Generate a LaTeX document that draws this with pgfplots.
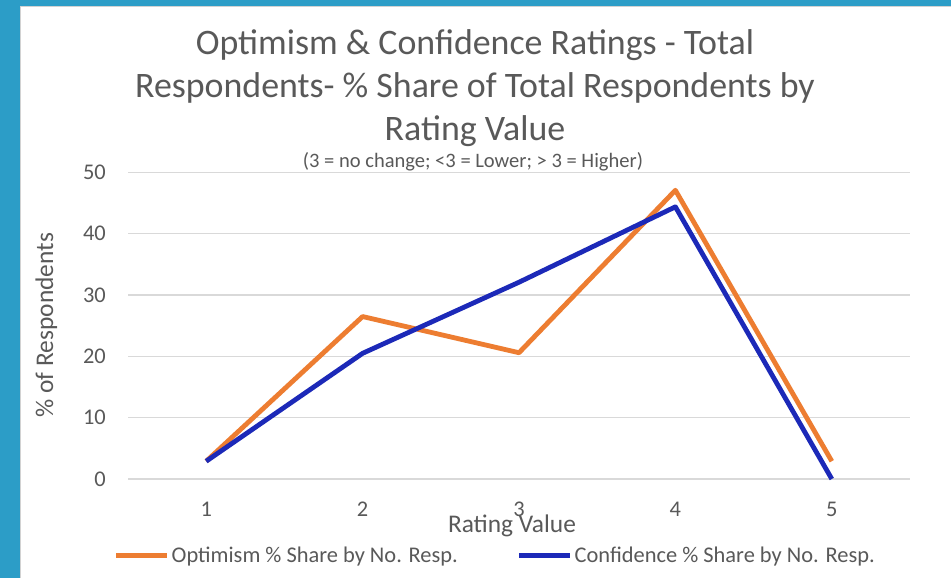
\documentclass[border=0pt]{standalone}
\usepackage{pgfplots}
\pgfplotsset{compat=1.18}
\usepackage{fontspec}
\setmainfont{Carlito}
\definecolor{frameblue}{RGB}{44,157,199}
\definecolor{txt}{RGB}{89,89,89}
\definecolor{gridc}{RGB}{217,217,217}
\definecolor{optor}{RGB}{237,125,49}
\definecolor{confbl}{RGB}{28,41,184}
\begin{document}
\begin{tikzpicture}
\useasboundingbox (0bp,0bp) rectangle (951bp,578bp);
\fill[white] (0bp,0bp) rectangle (951bp,578bp);
\fill[frameblue] (0bp,0bp) rectangle (20bp,578bp);
\fill[frameblue] (0bp,572bp) rectangle (951bp,578bp);
\draw[gray!35, line width=0.8bp] (20.5bp,0bp) -- (20.5bp,571.5bp) -- (951bp,571.5bp);
\begin{axis}[
  at={(128bp,99bp)}, anchor=south west,
  scale only axis, width=782bp, height=306.5bp,
  xmin=0.5, xmax=5.5, ymin=0, ymax=50,
  xtick={1,2,3,4,5}, ytick={0,10,20,30,40,50},
  axis lines*=left,
  x axis line style={draw=gridc, line width=1.2bp},
  y axis line style={draw=none},
  ymajorgrids, grid style={draw=gridc, line width=1.2bp},
  major tick length=0pt,
  tick label style={font=\fontsize{22.5}{27}\selectfont, text=txt},
  /pgf/number format/assume math mode=true,
  yticklabel style={anchor=east, inner sep=0pt, xshift=-22bp},
  xticklabel style={anchor=north, inner sep=0pt, yshift=-23bp},
  xlabel={Rating Value}, ylabel={\% of Respondents},
  label style={font=\fontsize{25.5}{30}\selectfont, text=txt},
  xlabel style={at={(axis description cs:0.491,-0.173)}, anchor=base, inner sep=0pt},
  ylabel style={at={(axis description cs:-0.0959,0.502)}, anchor=base, rotate=0, inner sep=0pt},
  legend columns=2,
  legend style={at={(axis description cs:0.4697,-0.25)}, anchor=center, draw=none, fill=none,
    font=\fontsize{22.5}{27}\selectfont, text=txt, inner sep=0pt,
    /tikz/every even column/.append style={column sep=57bp}},
  legend image code/.code={\draw[#1] (0bp,0bp) -- (51bp,0bp);},
  legend cell align=left,
  clip=false,
]
\addplot[optor, line width=4.8bp, line join=round] coordinates {(1,2.9) (2,26.5) (3,20.6) (4,47.1) (5,2.9)};
\addlegendentry{Optimism \% Share by No. Resp.}
\addplot[confbl, line width=4.8bp, line join=round] coordinates {(1,2.9) (2,20.5) (3,32.1) (4,44.4) (5,0)};
\addlegendentry{Confidence \% Share by No. Resp.}
\end{axis}
\begin{scope}[every node/.style={text=txt, font=\fontsize{36}{43}\selectfont, anchor=base, inner sep=0pt}]
\node at (475bp,523bp) {Optimism \& Confidence Ratings - Total};
\node at (475bp,480bp) {Respondents- \% Share of Total Respondents by};
\node at (475bp,437bp) {Rating Value};
\end{scope}
\node[text=txt, font=\fontsize{20.6}{24}\selectfont, anchor=base, inner sep=0pt] at (473bp,410bp) {(3 = no change; <3 = Lower; > 3 = Higher)};
\end{tikzpicture}
\end{document}
